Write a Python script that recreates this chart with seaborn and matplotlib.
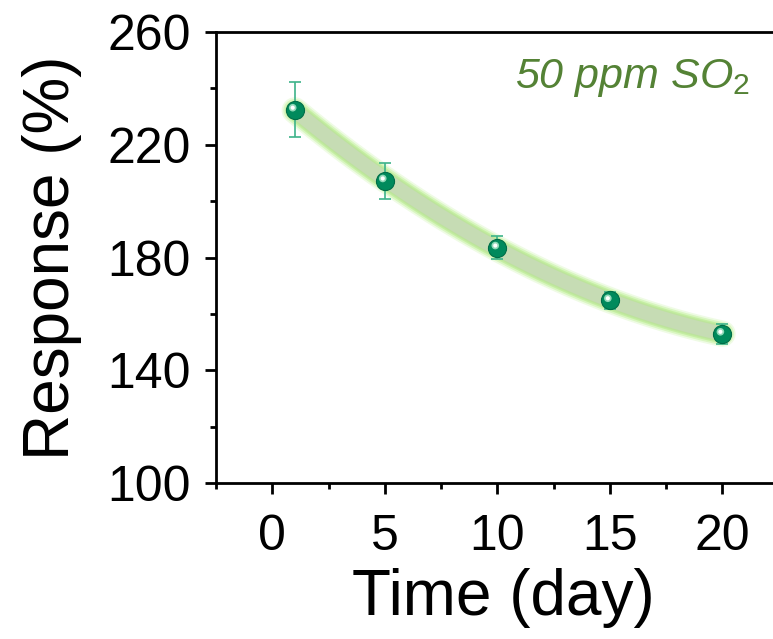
import numpy as np
import pandas as pd
import matplotlib
matplotlib.use("Agg")
import matplotlib.pyplot as plt
import matplotlib.transforms as mtransforms
from matplotlib.ticker import MultipleLocator
import seaborn as sns

# ---- data ----
days = [1, 5, 10, 15, 20]
response = [232.4, 207.3, 183.5, 164.8, 152.9]
errors = [9.7, 6.4, 4.2, 3.0, 3.5]
x_ticks = [0, 5, 10, 15, 20]
y_ticks = [100, 140, 180, 220, 260]
annotation = "50 ppm SO$_2$"

df = pd.DataFrame({"day": days, "resp": response, "err": errors})

sns.set_theme(style="ticks")
plt.rcParams["font.family"] = ["Liberation Sans", "DejaVu Sans"]
plt.rcParams["mathtext.fontset"] = "custom"
plt.rcParams["mathtext.rm"] = "Liberation Sans"
plt.rcParams["mathtext.it"] = "Liberation Sans:italic"

W, H = 773, 639
fig = plt.figure(figsize=(W / 100, H / 100), dpi=100)
left, right, top, bottom = 216, 790, 32, 483
ax = fig.add_axes([left / W, 1 - bottom / H, (right - left) / W, (bottom - top) / H])

# glowing fit line (quadratic fit by seaborn)
for lw, col, a in [(19, "#a8ec70", 0.18), (16.5, "#a8ec70", 0.3), (14, "#b0e882", 0.5),
                   (12, "#bce39c", 0.85), (10, "#c6dcb4", 1.0)]:
    sns.regplot(data=df, x="day", y="resp", order=2, ci=None, scatter=False, ax=ax,
                line_kws=dict(color=col, lw=lw, alpha=a, solid_capstyle="round", zorder=2))

# error bars
ax.errorbar(df["day"], df["resp"], yerr=df["err"], fmt="none", ecolor="#3db38a",
            elinewidth=1.2, capsize=4, capthick=1.2, zorder=3)

# sphere-like markers
sns.scatterplot(data=df, x="day", y="resp", ax=ax, s=170, color="#008a5c",
                edgecolor="#006e48", linewidth=0.8, zorder=4, legend=False)
off = mtransforms.offset_copy(ax.transData, fig=fig, x=-1.5, y=1.5, units="points")
ax.scatter(df["day"], df["resp"], s=30, color="#8fd9b8", edgecolor="none", zorder=5, transform=off)
ax.scatter(df["day"], df["resp"], s=9, color="white", edgecolor="none", zorder=6, transform=off)

ax.set_xlim(-2.5, 23)
ax.set_ylim(100, 260)
ax.set_xticks(x_ticks)
ax.set_yticks(y_ticks)
ax.xaxis.set_minor_locator(MultipleLocator(2.5))
ax.yaxis.set_minor_locator(MultipleLocator(20))
ax.tick_params(axis="both", which="major", direction="out", length=8, width=2,
               labelsize=36, color="black", labelcolor="black")
ax.tick_params(axis="both", which="minor", direction="out", length=4, width=2, color="black")
ax.tick_params(axis="x", pad=14)
ax.tick_params(axis="y", pad=10)
for sp in ax.spines.values():
    sp.set_linewidth(2)
    sp.set_color("black")

ax.set_xlabel("Time (day)", fontsize=46, labelpad=6, color="black")
ax.set_ylabel("Response (%)", fontsize=46, labelpad=18, color="black")

ax.text(750 / W, 1 - 78 / H, annotation, transform=fig.transFigure, ha="right", va="center",
        fontsize=31, color="#548235", style="italic")

fig.savefig("out.png", dpi=100)
